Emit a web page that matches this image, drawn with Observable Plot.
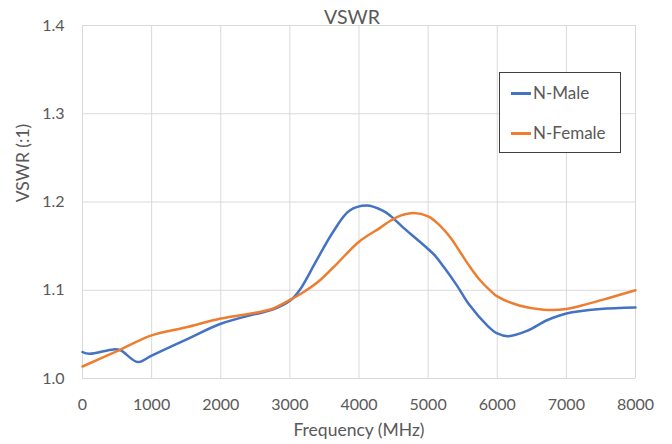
<!DOCTYPE html>
<html><head><meta charset="utf-8">
<script src="https://cdn.jsdelivr.net/npm/d3@7"></script>
<script src="https://cdn.jsdelivr.net/npm/@observablehq/plot@0.6"></script>
<style>
body{margin:0;background:#fff;}
#chart{position:relative;width:672px;height:444px;font-family:Lato,sans-serif;color:#595959;}
#chart svg{position:absolute;left:0;top:0;}
.legend{position:absolute;left:499px;top:72px;width:122px;height:81px;border:1px solid #404040;background:#fff;box-sizing:border-box;}
.item{position:absolute;left:11px;height:20px;line-height:20px;font-size:17px;white-space:nowrap;}
.sw{display:inline-block;width:20px;height:2.5px;margin-right:2px;vertical-align:middle;position:relative;top:-1px;}
.ylab{position:absolute;left:23px;top:163px;transform:translate(-50%,-50%) rotate(-90deg);font-size:17.5px;line-height:1;white-space:nowrap;}
</style></head>
<body><div id="chart"></div>
<script>
const titleText = "VSWR";
const xLabelText = "Frequency (MHz)";
const yLabelText = "VSWR (:1)";
const seriesNames = ["N-Male", "N-Female"];
const seriesColors = ["#4472C4", "#ED7D31"];
const xTicks = [0, 1000, 2000, 3000, 4000, 5000, 6000, 7000, 8000];
const yTicks = [1.0, 1.1, 1.2, 1.3, 1.4];

const maleFreq = [0, 100, 450, 550, 800, 1000, 1500, 2000, 2500, 2750, 3000, 3140, 3380, 3620, 3860, 4110, 4350, 4460, 4640, 4850, 5000, 5090, 5230, 5420, 5590, 5860, 6000, 6160, 6430, 6720, 7000, 7490, 8000];
const maleVswr = [1.030, 1.028, 1.033, 1.032, 1.0186, 1.026, 1.044, 1.062, 1.073, 1.078, 1.088, 1.100, 1.133, 1.1655, 1.190, 1.196, 1.190, 1.184, 1.171, 1.157, 1.1467, 1.140, 1.126, 1.105, 1.084, 1.0597, 1.051, 1.048, 1.054, 1.066, 1.0737, 1.0787, 1.0805];

const femaleFreq = [0, 500, 1000, 1500, 2000, 2500, 2750, 3000, 3200, 3440, 3680, 4000, 4310, 4460, 4600, 4790, 5000, 5175, 5320, 5465, 5610, 5755, 5900, 6000, 6330, 6670, 7000, 7300, 7640, 8000];
const femaleVswr = [1.0136, 1.031, 1.0488, 1.058, 1.068, 1.0745, 1.079, 1.089, 1.098, 1.1116, 1.130, 1.155, 1.171, 1.179, 1.1845, 1.1875, 1.1837, 1.173, 1.160, 1.143, 1.126, 1.111, 1.0995, 1.093, 1.0824, 1.078, 1.0787, 1.0843, 1.0918, 1.100];

const plot = Plot.plot({
  width: 672, height: 444,
  marginLeft: 82, marginRight: 37, marginTop: 25, marginBottom: 66,
  style: {fontFamily: "Lato, sans-serif", fontSize: "16px", color: "#595959", background: "transparent", overflow: "visible"},
  x: {domain: [0, 8000], ticks: xTicks, tickSize: 0, tickPadding: 20, tickFormat: d => String(d), label: null},
  y: {domain: [1.0, 1.4], ticks: yTicks, tickSize: 0, tickPadding: 18, tickFormat: d => d.toFixed(1), label: null},
  marks: [
    Plot.ruleX(xTicks, {x: d => d, stroke: "#d9d9d9", strokeWidth: 1}),
    Plot.ruleY(yTicks, {y: d => d, stroke: "#d9d9d9", strokeWidth: 1}),
    Plot.line(maleFreq, {x: maleFreq, y: maleVswr, stroke: seriesColors[0], strokeWidth: 2.5, curve: "catmull-rom"}),
    Plot.line(femaleFreq, {x: femaleFreq, y: femaleVswr, stroke: seriesColors[1], strokeWidth: 2.5, curve: "catmull-rom"}),
    Plot.text([titleText], {text: d => d, frameAnchor: "top", lineAnchor: "bottom", dx: -7, dy: -2, fontSize: 19.5, fill: "#595959"}),
    Plot.text([xLabelText], {text: d => d, frameAnchor: "bottom", lineAnchor: "bottom", dy: 57, fontSize: 17.5, fill: "#595959"})
  ]
});
const chart = document.getElementById("chart");
chart.appendChild(plot);

const ylab = document.createElement("div");
ylab.className = "ylab";
ylab.textContent = yLabelText;
chart.appendChild(ylab);

const legend = document.createElement("div");
legend.className = "legend";
seriesNames.forEach((name, i) => {
  const item = document.createElement("div");
  item.className = "item";
  item.style.top = (10 + i * 40) + "px";
  const sw = document.createElement("span");
  sw.className = "sw";
  sw.style.background = seriesColors[i];
  item.appendChild(sw);
  item.appendChild(document.createTextNode(name));
  legend.appendChild(item);
});
chart.appendChild(legend);
</script>
</body></html>
